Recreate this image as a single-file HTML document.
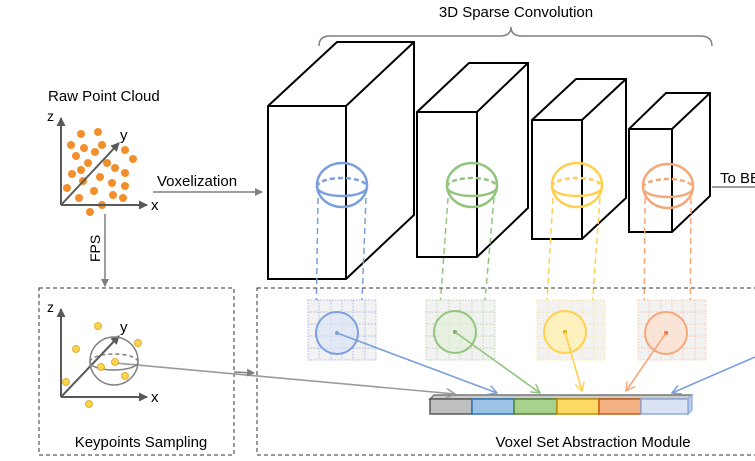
<!DOCTYPE html>
<html><head><meta charset="utf-8"><style>
html,body{margin:0;padding:0;background:#fff;}
svg{display:block;font-family:"Liberation Sans",sans-serif;}
</style></head><body>
<svg width="755" height="461" viewBox="0 0 755 461" xmlns="http://www.w3.org/2000/svg">
<defs>
<marker id="ag" markerWidth="8" markerHeight="8" refX="7" refY="4" orient="auto" markerUnits="userSpaceOnUse"><path d="M0,0 L8,4 L0,8 z" fill="#7f7f7f"/></marker>
<marker id="ad" markerWidth="9" markerHeight="9" refX="8" refY="4.5" orient="auto" markerUnits="userSpaceOnUse"><path d="M0,0 L9,4.5 L0,9 z" fill="#595959"/></marker>
<marker id="ab" markerWidth="10" markerHeight="10" refX="9" refY="5" orient="auto" markerUnits="userSpaceOnUse"><path d="M0,0 L9,5 L0,10" fill="none" stroke="#7b9fdc" stroke-width="1.5"/></marker>
<marker id="agr" markerWidth="10" markerHeight="10" refX="9" refY="5" orient="auto" markerUnits="userSpaceOnUse"><path d="M0,0 L9,5 L0,10" fill="none" stroke="#93c47d" stroke-width="1.5"/></marker>
<marker id="ay" markerWidth="10" markerHeight="10" refX="9" refY="5" orient="auto" markerUnits="userSpaceOnUse"><path d="M0,0 L9,5 L0,10" fill="none" stroke="#ffd050" stroke-width="1.5"/></marker>
<marker id="ao" markerWidth="10" markerHeight="10" refX="9" refY="5" orient="auto" markerUnits="userSpaceOnUse"><path d="M0,0 L9,5 L0,10" fill="none" stroke="#f4a87a" stroke-width="1.5"/></marker>
<marker id="agy" markerWidth="10" markerHeight="10" refX="9" refY="5" orient="auto" markerUnits="userSpaceOnUse"><path d="M0,0 L9,5 L0,10" fill="none" stroke="#9a9a9a" stroke-width="1.5"/></marker>
</defs>

<text x="516" y="17" font-size="15" text-anchor="middle" fill="#000">3D Sparse Convolution</text>
<path d="M319,46 Q319,36 330,36 L500,36 Q511,36 511,27 Q511,36 522,36 L700,36 Q712,36 712,46" fill="none" stroke="#808080" stroke-width="1.5"/>

<g fill="#fff" stroke="#000" stroke-width="2">
<path d="M268,106 L337,42 L414,42 L414,215 L346,279 L268,279 Z"/><path d="M268,106 L346,106 L414,42 M346,106 L346,279"/>
<path d="M417,112 L469,63 L528,63 L528,208 L477,257 L417,257 Z"/><path d="M417,112 L477,112 L528,63 M477,112 L477,257"/>
<path d="M532,120 L576,79 L626,79 L626,198 L582,239 L532,239 Z"/><path d="M532,120 L582,120 L626,79 M582,120 L582,239"/>
<path d="M629,129 L666,93 L710,93 L710,196 L672,232 L629,232 Z"/><path d="M629,129 L672,129 L710,93 M672,129 L672,232"/>
</g>

<g fill="none" stroke-width="2.5">
<g stroke="#7b9fdc"><ellipse cx="342" cy="185" rx="25" ry="22"/><path d="M317,187 A25,9 0 0 0 367,187"/><path d="M317,187 A25,9 0 0 1 367,187" stroke-dasharray="5,3"/><path d="M318,198 L316,325 M366,198 L361,325" stroke-width="1.5" stroke-dasharray="6,4"/></g>
<g stroke="#93c47d"><ellipse cx="472" cy="185" rx="25" ry="22"/><path d="M447,187 A25,9 0 0 0 497,187"/><path d="M447,187 A25,9 0 0 1 497,187" stroke-dasharray="5,3"/><path d="M448,198 L438,335 M494,198 L482,335" stroke-width="1.5" stroke-dasharray="6,4"/></g>
<g stroke="#ffd050"><ellipse cx="577" cy="185" rx="25" ry="22"/><path d="M552,187 A25,9 0 0 0 602,187"/><path d="M552,187 A25,9 0 0 1 602,187" stroke-dasharray="5,3"/><path d="M553,198 L545,335 M600,198 L590,335" stroke-width="1.5" stroke-dasharray="6,4"/></g>
<g stroke="#f4a87a"><ellipse cx="668" cy="186" rx="25" ry="22"/><path d="M643,188 A25,9 0 0 0 693,188"/><path d="M643,188 A25,9 0 0 1 693,188" stroke-dasharray="5,3"/><path d="M645,198 L644,335 M691,198 L690,335" stroke-width="1.5" stroke-dasharray="6,4"/></g>
</g>

<text x="720" y="183" font-size="15" fill="#000">To BEV</text>
<line x1="712" y1="187" x2="755" y2="187" stroke="#808080" stroke-width="1.5"/>

<rect x="39" y="288" width="195" height="167" fill="none" stroke="#333" stroke-width="1" stroke-dasharray="4,3"/>
<rect x="257" y="288" width="510" height="167" fill="none" stroke="#333" stroke-width="1" stroke-dasharray="4,3"/>

<g stroke-width="0.9" stroke-dasharray="1.5,1.5">
<g stroke="#9db5e6"><rect x="308" y="300" width="68" height="60" fill="#f2f2f2"/><path d="M319,300V360M331,300V360M342,300V360M353,300V360M365,300V360M308,312H376M308,324H376M308,336H376M308,348H376"/><circle cx="337" cy="333" r="21" fill="#dbe6f7" fill-opacity="0.7" stroke="#7b9fdc" stroke-width="2" stroke-dasharray="none"/></g>
<g stroke="#b5d6a7"><rect x="426" y="300" width="69" height="60" fill="#f2f2f2"/><path d="M437,300V360M449,300V360M460,300V360M472,300V360M483,300V360M426,312H495M426,324H495M426,336H495M426,348H495"/><circle cx="455" cy="332" r="21" fill="#e2efda" fill-opacity="0.7" stroke="#93c47d" stroke-width="2" stroke-dasharray="none"/></g>
<g stroke="#ffe38c"><rect x="537" y="300" width="68" height="60" fill="#f2f2f2"/><path d="M548,300V360M560,300V360M571,300V360M582,300V360M594,300V360M537,312H605M537,324H605M537,336H605M537,348H605"/><circle cx="565" cy="332" r="21" fill="#fff0b3" fill-opacity="0.8" stroke="#ffd050" stroke-width="2" stroke-dasharray="none"/></g>
<g stroke="#f8c6a8"><rect x="638" y="300" width="68" height="60" fill="#f2f2f2"/><path d="M649,300V360M661,300V360M672,300V360M683,300V360M695,300V360M638,312H706M638,324H706M638,336H706M638,348H706"/><circle cx="666" cy="333" r="21" fill="#fbe0d0" fill-opacity="0.8" stroke="#f4a87a" stroke-width="2" stroke-dasharray="none"/></g>
</g>
<circle cx="337" cy="333" r="2" fill="#7b9fdc"/><circle cx="455" cy="332" r="2" fill="#6aa84f"/><circle cx="565" cy="332" r="2" fill="#e6a800"/><circle cx="666" cy="333" r="2" fill="#e06c30"/>

<g stroke-width="1.5">
<path d="M430,399 L434,395 L692,395 L688,399 Z" fill="#ccc" stroke="#777"/>
<path d="M688,399 L692,395 L692,410 L688,414 Z" fill="#bcc9e4" stroke="#9db5e6"/>
<rect x="430" y="399" width="42" height="15" fill="#bfbfbf" stroke="#595959"/>
<rect x="472" y="399" width="42" height="15" fill="#9dc3e6" stroke="#2e75b6"/>
<rect x="514" y="399" width="43" height="15" fill="#a9d18e" stroke="#548235"/>
<rect x="557" y="399" width="42" height="15" fill="#ffd966" stroke="#bf9000"/>
<rect x="599" y="399" width="42" height="15" fill="#f4b183" stroke="#c55a11"/>
<rect x="641" y="399" width="47" height="15" fill="#dae3f3" stroke="#8faadc"/>
</g>

<g fill="none" stroke-width="1.6">
<line x1="337" y1="333" x2="497" y2="393" stroke="#7b9fdc" marker-end="url(#ab)"/>
<line x1="455" y1="332" x2="540" y2="393" stroke="#93c47d" marker-end="url(#agr)"/>
<line x1="565" y1="332" x2="582" y2="391" stroke="#ffd050" marker-end="url(#ay)"/>
<line x1="666" y1="333" x2="626" y2="391" stroke="#f4a87a" marker-end="url(#ao)"/>
<line x1="755" y1="357" x2="672" y2="393" stroke="#7b9fdc" marker-end="url(#ab)"/>
<line x1="115" y1="363" x2="455" y2="394" stroke="#9a9a9a" marker-end="url(#agy)"/>
</g>
<line x1="234" y1="372" x2="254" y2="373" stroke="#7f7f7f" stroke-width="1.5" marker-end="url(#ag)"/>

<text x="593" y="447" font-size="15" text-anchor="middle" fill="#000">Voxel Set Abstraction Module</text>
<text x="141" y="447" font-size="15" text-anchor="middle" fill="#000">Keypoints Sampling</text>

<text x="48" y="101" font-size="15" fill="#000">Raw Point Cloud</text>
<g fill="#f28e2b">
<circle cx="81" cy="134" r="4"/><circle cx="98" cy="132" r="4"/><circle cx="71" cy="145" r="4"/><circle cx="84" cy="148" r="4"/><circle cx="95" cy="152" r="4"/><circle cx="102" cy="145" r="4"/><circle cx="76" cy="156" r="4"/><circle cx="88" cy="163" r="4"/><circle cx="107" cy="163" r="4"/><circle cx="81" cy="170" r="4"/><circle cx="72" cy="174" r="4"/><circle cx="83" cy="181" r="4"/><circle cx="100" cy="177" r="4"/><circle cx="115" cy="168" r="4"/><circle cx="125" cy="150" r="4"/><circle cx="133" cy="159" r="4"/><circle cx="125" cy="173" r="4"/><circle cx="67" cy="188" r="4"/><circle cx="79" cy="198" r="4"/><circle cx="94" cy="191" r="4"/><circle cx="112" cy="183" r="4"/><circle cx="125" cy="186" r="4"/><circle cx="113" cy="195" r="4"/><circle cx="123" cy="198" r="4"/><circle cx="102" cy="205" r="4"/><circle cx="90" cy="212" r="4"/>
</g>
<g stroke="#595959" stroke-width="2">
<line x1="61" y1="205" x2="61" y2="118" marker-end="url(#ad)"/>
<line x1="61" y1="205" x2="147" y2="205" marker-end="url(#ad)"/>
<line x1="61" y1="205" x2="119" y2="143" marker-end="url(#ad)"/>
</g>
<text x="47" y="121" font-size="14">z</text><text x="151" y="210" font-size="15">x</text><text x="120" y="140" font-size="15">y</text>

<text x="157" y="186" font-size="15">Voxelization</text>
<line x1="153" y1="192" x2="262" y2="192" stroke="#7f7f7f" stroke-width="1.5" marker-end="url(#ag)"/>
<line x1="105" y1="214" x2="105" y2="286" stroke="#7f7f7f" stroke-width="1.5" marker-end="url(#ag)"/>
<text transform="translate(100,262) rotate(-90)" font-size="14">FPS</text>

<g stroke="#595959" stroke-width="2">
<line x1="61" y1="397" x2="61" y2="309" marker-end="url(#ad)"/>
<line x1="61" y1="397" x2="147" y2="397" marker-end="url(#ad)"/>
<line x1="61" y1="397" x2="119" y2="336" marker-end="url(#ad)"/>
</g>
<text x="47" y="312" font-size="14">z</text><text x="151" y="402" font-size="15">x</text><text x="120" y="332" font-size="15">y</text>
<g fill="none" stroke="#808080" stroke-width="1.5">
<circle cx="114" cy="361" r="24"/><path d="M90,362 A24,8 0 0 0 138,362"/><path d="M90,362 A24,8 0 0 1 138,362" stroke-dasharray="4,3"/>
</g>
<g fill="#ffd24d" stroke="#d4a017" stroke-width="0.8">
<circle cx="98" cy="326" r="3.5"/><circle cx="76" cy="349" r="3.5"/><circle cx="66" cy="382" r="3.5"/><circle cx="89" cy="404" r="3.5"/><circle cx="138" cy="343" r="3.5"/><circle cx="101" cy="367" r="3.5"/><circle cx="115" cy="362" r="3.5"/><circle cx="125" cy="376" r="3.5"/>
</g>
</svg>
</body></html>
